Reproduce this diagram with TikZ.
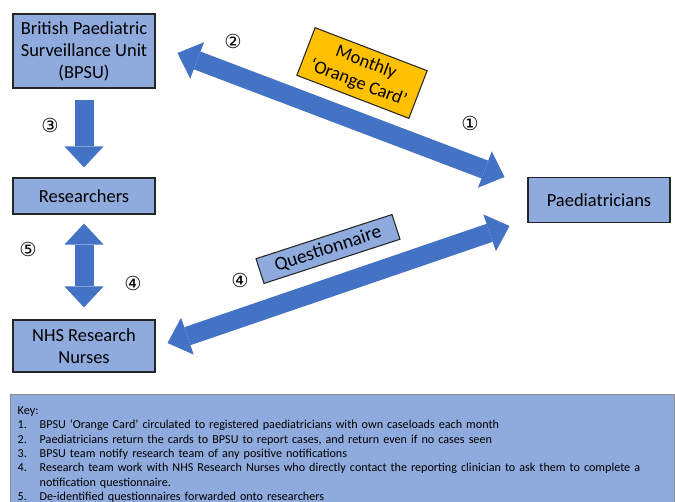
\documentclass[tikz,border=0pt]{standalone}
\usepackage{fontspec}
\setmainfont{Carlito}
\newfontfamily\circfont{DejaVu Sans}
\usetikzlibrary{arrows.meta,calc}
\definecolor{boxblue}{RGB}{143,170,220}
\definecolor{arrowblue}{RGB}{68,114,196}
\definecolor{cardorange}{RGB}{255,192,0}
\definecolor{keyedge}{RGB}{140,140,140}
\newcommand{\stepmark}[3]{\node[stepno] (#1) at (#2) {#3};}
\newcommand{\fattip}{Triangle[width=0.78cm,length=0.42cm,line width=0pt]}
\tikzset{
  unitbox/.style={draw=black!85, fill=boxblue, line width=0.6pt, minimum width=2.84cm,
    align=center, inner sep=2pt, font=\fontsize{10.5}{12.5}\selectfont},
  cardbox/.style={unitbox, fill=cardorange, minimum width=2.4cm, minimum height=1.02cm},
  fatarrow/.style={draw=arrowblue, line width=0.38cm, -{\fattip}},
  fatboth/.style={draw=arrowblue, line width=0.38cm, {\fattip}-{\fattip}},
  stepno/.style={inner sep=0pt, font=\circfont\fontsize{11}{11}\selectfont},
  keybox/.style={draw=keyedge, fill=boxblue, line width=0.8pt, anchor=north west,
    minimum height=2.4cm, text width=13cm, inner xsep=4pt, inner ysep=3pt,
    font=\fontsize{6.9}{8.2}\selectfont}
}

\begin{document}
\begin{tikzpicture}[x=0.02cm,y=-0.02cm]
\clip (0,0) rectangle (675,502);
% boxes
\node[unitbox, minimum height=1.48cm] (bpsu) at (84,51) {British Paediatric\\Surveillance Unit\\(BPSU)};
\node[unitbox, minimum height=0.72cm] (res) at (84,196) {Researchers};
\node[unitbox, minimum height=1.04cm] (nurses) at (84,346) {NHS Research\\Nurses};
\node[unitbox, minimum height=0.9cm] (paed) at (599,200) {Paediatricians};
% arrows
\draw[fatboth] ($(bpsu.east)+(22,2)$) -- ($(paed.west)+(-23,-23)$);
\draw[fatarrow] ($(bpsu.south)+(0,11)$) -- ($(res.north)+(0,-10)$);
\draw[fatboth] ($(res.south)+(0,9)$) -- ($(nurses.north)+(0,-12)$);
\draw[fatboth] ($(nurses.east)+(12,-3)$) -- ($(paed.west)+(-18,26)$);
% labels on arrows
\node[cardbox, rotate=-21] (card) at (362,73) {Monthly\\‘Orange Card’};
\node[unitbox, rotate=18, minimum width=2.86cm, minimum height=0.52cm,
  font=\fontsize{11}{12}\selectfont] (quest) at (328,249) {Questionnaire};
\stepmark{one}{470,123}{①}\stepmark{two}{233,41}{②}\stepmark{three}{50,125}{③}
\stepmark{five}{28,249}{⑤}\stepmark{foura}{133,283}{④}\stepmark{fourb}{240,280}{④}
% key
\node[keybox, align=left] (key) at (10,394) {%
\begin{tabular}{@{}p{0.44cm}@{}l@{}}
\multicolumn{2}{@{}l}{Key:}\\
1. & BPSU ‘Orange Card’ circulated to registered paediatricians with own caseloads each month\\
2. & Paediatricians return the cards to BPSU to report cases, and return even if no cases seen\\
3. & BPSU team notify research team of any positive notifications\\
4. & Research team work with NHS Research Nurses who directly contact the reporting clinician to ask them to complete a\\
   & notification questionnaire.\\
5. & De-identified questionnaires forwarded onto researchers
\end{tabular}};
\end{tikzpicture}
\end{document}
